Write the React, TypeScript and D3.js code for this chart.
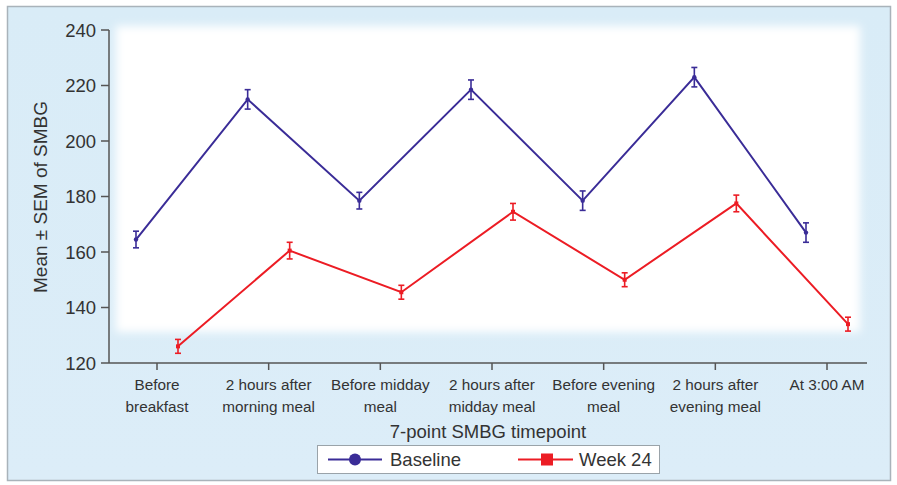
import React from "react";
import * as d3 from "d3";

const categories = [
  ["Before", "breakfast"],
  ["2 hours after", "morning meal"],
  ["Before midday", "meal"],
  ["2 hours after", "midday meal"],
  ["Before evening", "meal"],
  ["2 hours after", "evening meal"],
  ["At 3:00 AM"],
];
const baselineMean = [164.5, 215, 178.5, 218.5, 178.5, 223, 167];
const baselineSem = [3, 3.5, 3, 3.5, 3.5, 3.5, 3.5];
const week24Mean = [126, 160.5, 145.5, 174.5, 150, 177.5, 134];
const week24Sem = [2.5, 3, 2.5, 3, 2.5, 3, 2.5];
const yTicks = [120, 140, 160, 180, 200, 220, 240];

const W = 897;
const H = 485;
const BLUE = "#3a2c97";
const RED = "#ec1c24";
const FONT = "'Liberation Sans', Arial, sans-serif";

export default function App() {
  const x = d3.scaleLinear().domain([0, 6]).range([157, 827]);
  const y = d3.scaleLinear().domain([120, 240]).range([363, 30]);
  const off = 21;
  const line = d3
    .line<number>()
    .x((_, i) => x(i))
    .y((d) => y(d));

  const series = [
    { name: "Baseline", mean: baselineMean, sem: baselineSem, color: BLUE, dx: -off, shape: "circle" },
    { name: "Week 24", mean: week24Mean, sem: week24Sem, color: RED, dx: off, shape: "square" },
  ];

  return (
    <svg width={W} height={H} style={{ position: "absolute", left: 0, top: 0 }} fontFamily={FONT}>
      <defs>
        <filter id="soft" x="-10%" y="-10%" width="120%" height="120%">
          <feGaussianBlur stdDeviation="4" />
        </filter>
        <linearGradient id="bg" x1="0" y1="0" x2="0" y2="1">
          <stop offset="0" stopColor="#d9ecf7" />
          <stop offset="1" stopColor="#dcedf8" />
        </linearGradient>
      </defs>
      <rect x={0} y={0} width={W} height={H} fill="#ffffff" />
      <rect x={7.5} y={6.5} width={883} height={474} fill="url(#bg)" stroke="#a9b3ba" strokeWidth={1.5} />
      <rect x={116} y={26} width={744} height={306} fill="#ffffff" filter="url(#soft)" />

      {/* axes */}
      <line x1={109} x2={109} y1={y(240)} y2={y(120)} stroke="#555" strokeWidth={1.5} />
      <line x1={109} x2={867} y1={y(120)} y2={y(120)} stroke="#555" strokeWidth={1.5} />
      {yTicks.map((t) => (
        <g key={t}>
          <line x1={101} x2={109} y1={y(t)} y2={y(t)} stroke="#555" strokeWidth={1.5} />
          <text x={96} y={y(t)} dy="0.36em" textAnchor="end" fontSize={18.5} fill="#333">
            {t}
          </text>
        </g>
      ))}
      {categories.map((c, i) => (
        <g key={i}>
          <line x1={x(i)} x2={x(i)} y1={y(120)} y2={y(120) + 7} stroke="#555" strokeWidth={1.5} />
          {c.map((s, j) => (
            <text key={j} x={x(i)} y={390 + j * 22} textAnchor="middle" fontSize={15.3} fill="#333">
              {s}
            </text>
          ))}
        </g>
      ))}
      <text x={488} y={438} textAnchor="middle" fontSize={18.5} fill="#333">
        7-point SMBG timepoint
      </text>
      <text
        transform={`translate(47,${197}) rotate(-90)`}
        textAnchor="middle"
        fontSize={19}
        fill="#333"
      >
        Mean ± SEM of SMBG
      </text>

      {/* series */}
      {series.map((s) => (
        <g key={s.name} transform={`translate(${s.dx},0)`}>
          <path d={line(s.mean) || ""} fill="none" stroke={s.color} strokeWidth={2} />
          {s.mean.map((m, i) => (
            <g key={i} stroke={s.color} strokeWidth={1.6}>
              <line x1={x(i)} x2={x(i)} y1={y(m + s.sem[i])} y2={y(m - s.sem[i])} />
              <line x1={x(i) - 3} x2={x(i) + 3} y1={y(m + s.sem[i])} y2={y(m + s.sem[i])} />
              <line x1={x(i) - 3} x2={x(i) + 3} y1={y(m - s.sem[i])} y2={y(m - s.sem[i])} />
              {s.shape === "circle" ? (
                <circle cx={x(i)} cy={y(m)} r={2.2} fill={s.color} stroke="none" />
              ) : (
                <rect x={x(i) - 2} y={y(m) - 2} width={4} height={4} fill={s.color} stroke="none" />
              )}
            </g>
          ))}
        </g>
      ))}

      {/* legend */}
      <rect x={317.5} y={445.5} width={342} height={28} fill="#ffffff" stroke="#9aa3a9" strokeWidth={1} />
      <line x1={328} x2={382} y1={459.5} y2={459.5} stroke={BLUE} strokeWidth={2} />
      <circle cx={355} cy={459.5} r={6} fill={BLUE} />
      <text x={390} y={459.5} dy="0.36em" fontSize={18.5} fill="#333">
        Baseline
      </text>
      <line x1={518} x2={573} y1={459.5} y2={459.5} stroke={RED} strokeWidth={2} />
      <rect x={541} y={453.5} width={12} height={12} fill={RED} />
      <text x={579} y={459.5} dy="0.36em" fontSize={18.5} fill="#333">
        Week 24
      </text>
    </svg>
  );
}
